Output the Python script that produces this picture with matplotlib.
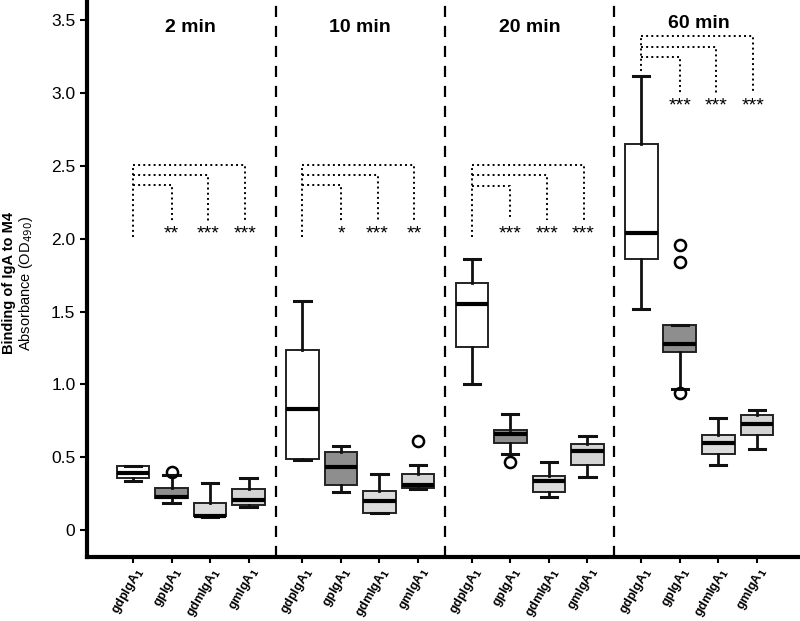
import numpy as np
import matplotlib.pyplot as plt

plt.rcParams['font.family'] = ['Liberation Sans', 'DejaVu Sans']

groups = ['2 min', '10 min', '20 min', '60 min']
samples = [r'gdpIgA$_\mathbf{1}$', r'gpIgA$_\mathbf{1}$', r'gdmIgA$_\mathbf{1}$', r'gmIgA$_\mathbf{1}$']

# box stats per group, order: gdpIgA1, gpIgA1, gdmIgA1, gmIgA1
q1 = [[0.36, 0.22, 0.095, 0.17],
      [0.49, 0.31, 0.12, 0.29],
      [1.26, 0.60, 0.26, 0.45],
      [1.86, 1.22, 0.52, 0.65]]
med = [[0.39, 0.23, 0.10, 0.21],
       [0.83, 0.43, 0.20, 0.31],
       [1.55, 0.66, 0.335, 0.54],
       [2.04, 1.28, 0.60, 0.73]]
q3 = [[0.44, 0.29, 0.185, 0.28],
      [1.24, 0.535, 0.27, 0.385],
      [1.70, 0.69, 0.37, 0.59],
      [2.65, 1.41, 0.65, 0.79]]
whislo = [[0.34, 0.185, 0.09, 0.16],
          [0.48, 0.26, 0.12, 0.28],
          [1.00, 0.52, 0.23, 0.365],
          [1.52, 0.97, 0.45, 0.555]]
whishi = [[0.44, 0.375, 0.32, 0.355],
          [1.57, 0.575, 0.385, 0.445],
          [1.86, 0.795, 0.47, 0.645],
          [3.12, 1.41, 0.77, 0.825]]
fliers = [[[], [0.40], [], []],
          [[], [], [], [0.61]],
          [[], [0.465], [], []],
          [[], [1.96, 1.84, 0.94], [], []]]
box_colors = ['white', '#8e8e8e', '#dcdcdc', '#d4d4d4']

# significance brackets
stars = [['**', '***', '***'],
         ['*', '***', '**'],
         ['***', '***', '***'],
         ['***', '***', '***']]
left_bottom = [2.01, 2.01, 2.01, 3.15]
bracket_tops = [[2.37, 2.44, 2.505],
                [2.37, 2.44, 2.505],
                [2.36, 2.44, 2.51],
                [3.25, 3.32, 3.39]]
drop_bottom = [2.12, 2.12, 2.13, 3.00]
star_y = [2.03, 2.03, 2.03, 2.91]
title_y = [3.45, 3.45, 3.45, 3.48]

gap = 4.4
offs = [1.0, 1.95, 2.9]

fig = plt.figure(figsize=(8, 6.21), dpi=100)
ax = fig.add_axes([0.109, 0.103, 0.891, 0.897])

positions = []
for g in range(4):
    for j in range(4):
        pos = g * gap + j
        positions.append(pos)
        st = [dict(med=med[g][j], q1=q1[g][j], q3=q3[g][j],
                   whislo=whislo[g][j], whishi=whishi[g][j],
                   fliers=fliers[g][j])]
        ax.bxp(st, positions=[pos], widths=0.85, patch_artist=True,
               showfliers=True,
               boxprops=dict(facecolor=box_colors[j], edgecolor='#222222', lw=1.4),
               medianprops=dict(color='black', lw=3),
               whiskerprops=dict(color='#111111', lw=2),
               capprops=dict(color='#111111', lw=2.2),
               capwidths=0.42,
               flierprops=dict(marker='o', markersize=8, markerfacecolor='none',
                               markeredgecolor='black', markeredgewidth=1.8))

    x0 = g * gap
    ax.plot([x0, x0], [left_bottom[g], bracket_tops[g][2]], ls=':', color='black', lw=1.4)
    for k in range(3):
        xr = x0 + offs[k]
        ax.plot([x0, xr, xr], [bracket_tops[g][k], bracket_tops[g][k], drop_bottom[g]],
                ls=':', color='black', lw=1.4)
        ax.text(xr, star_y[g], stars[g][k], ha='center', va='center', fontsize=14)
    ax.text(x0 + 1.5, title_y[g], groups[g], ha='center', va='center',
            fontsize=14, fontweight='bold')
    if g < 3:
        ax.axvline(x0 + 3 + (gap - 3) / 2, color='black', ls=(0, (5, 4)), lw=1.6)

ax.set_xlim(-1.19, 17.32)
ax.set_ylim(-0.185, 3.64)
ax.set_xticks(positions)
ax.set_xticklabels(samples * 4, rotation=60, ha='right', rotation_mode='anchor',
                   fontsize=9, fontweight='bold')
ax.set_yticks([0, 0.5, 1.0, 1.5, 2.0, 2.5, 3.0, 3.5])
ax.set_yticklabels(['0', '0.5', '1.0', '1.5', '2.0', '2.5', '3.0', '3.5'], fontsize=12.5)
ax.tick_params(axis='both', direction='out', length=5, width=1.5)
ax.tick_params(axis='x', length=4, pad=1.5)
for s in ['top', 'right']:
    ax.spines[s].set_visible(False)
for s in ['left', 'bottom']:
    ax.spines[s].set_linewidth(3)

fig.text(0.011, 0.544, 'Binding of IgA to M4', rotation=90, ha='center', va='center',
         fontsize=10.5, fontweight='bold')
fig.text(0.0325, 0.544, r'Absorbance (OD$_{490}$)', rotation=90, ha='center', va='center',
         fontsize=10.5)

fig.savefig('out.png', dpi=100)
